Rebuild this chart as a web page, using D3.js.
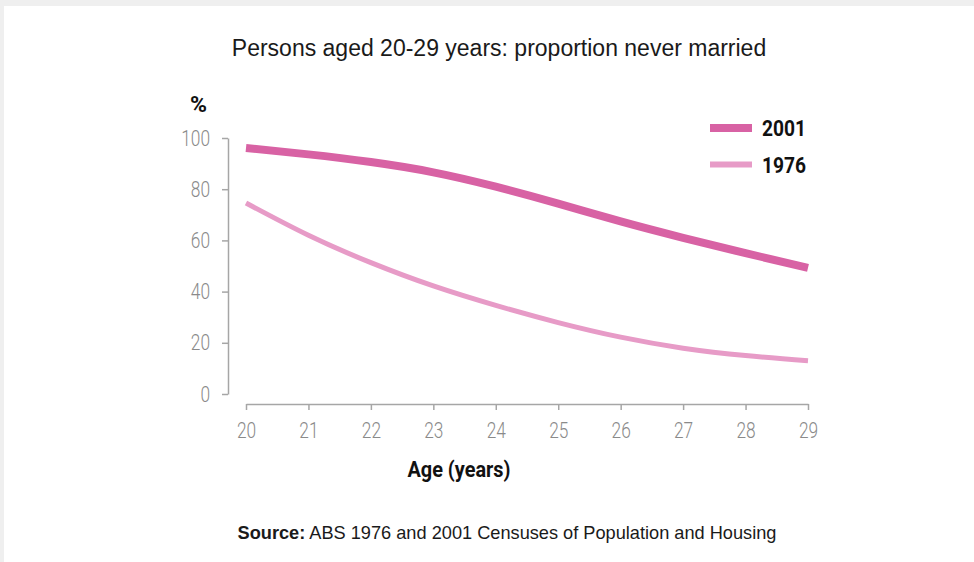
<!DOCTYPE html>
<html><head><meta charset="utf-8">
<script src="https://cdn.jsdelivr.net/npm/d3@7/dist/d3.min.js"></script>
<style>
html,body{margin:0;padding:0;background:#efefef;}
svg{display:block;}
</style></head>
<body>
<svg id="chart" width="974" height="562"></svg>
<script>
const ages = [20, 21, 22, 23, 24, 25, 26, 27, 28, 29];
const values2001 = [96.1, 93.6, 90.6, 86.6, 81.0, 74.4, 67.4, 61.0, 55.0, 49.3];
const values1976 = [74.6, 62.0, 51.3, 42.2, 34.6, 27.9, 22.2, 17.9, 15.0, 13.0];
const yTicks = [0, 20, 40, 60, 80, 100];
const seriesNames = ["2001", "1976"];
const seriesColors = ["#d862a4", "#e79bc7"];

const svg = d3.select("#chart");
svg.append("rect").attr("x", 4).attr("y", 6).attr("width", 970).attr("height", 556).attr("fill", "#ffffff");

const cond = "Roboto, 'Liberation Sans', sans-serif";
const sans = "'Liberation Sans', Arial, Helvetica, sans-serif";
const digitW = 9.6;

const x = d3.scaleLinear().domain([20, 29]).range([246, 808]);
const y = d3.scaleLinear().domain([0, 100]).range([394, 138]);

function styleTicks(g) {
  g.select(".domain").attr("stroke", "#a6a6a6").attr("stroke-width", 1.5);
  g.selectAll(".tick line").attr("stroke", "#a6a6a6").attr("stroke-width", 1.5);
  g.selectAll(".tick text").attr("fill", "#8a8a8a")
    .style("font-family", cond).style("font-weight", "300").style("font-size", "22px")
    .attr("textLength", function() { return this.textContent.length * digitW; })
    .attr("lengthAdjust", "spacingAndGlyphs");
}

// y axis
const yAxis = svg.append("g").attr("transform", "translate(228,0)")
  .call(d3.axisLeft(y).tickValues(yTicks).tickSize(6).tickSizeOuter(0).tickPadding(12));
styleTicks(yAxis);

// x axis
const xAxis = svg.append("g").attr("transform", "translate(0,404)")
  .call(d3.axisBottom(x).tickValues(ages).tickSize(6).tickSizeOuter(0).tickPadding(12).tickFormat(d3.format("d")));
styleTicks(xAxis);

// lines
const line = d3.line().x((d, i) => x(ages[i])).y(d => y(d)).curve(d3.curveNatural);
svg.append("path").datum(values1976).attr("fill", "none").attr("stroke", seriesColors[1]).attr("stroke-width", 5).attr("d", line);
svg.append("path").datum(values2001).attr("fill", "none").attr("stroke", seriesColors[0]).attr("stroke-width", 8).attr("d", line);

// title
svg.append("text").attr("x", 499).attr("y", 56).attr("text-anchor", "middle")
  .style("font-family", sans).style("font-size", "23px").attr("fill", "#1a1a1a")
  .text("Persons aged 20-29 years: proportion never married");

// % label
svg.append("text").attr("x", 190).attr("y", 112)
  .style("font-family", cond).style("font-weight", "bold").style("font-size", "22px").attr("fill", "#111")
  .attr("textLength", 17).attr("lengthAdjust", "spacingAndGlyphs")
  .text("%");

// legend
const legY = [128, 164.5];
const legW = [8, 6];
seriesNames.forEach((n, i) => {
  svg.append("line").attr("x1", 710).attr("x2", 752).attr("y1", legY[i]).attr("y2", legY[i])
    .attr("stroke", seriesColors[i]).attr("stroke-width", legW[i]);
  svg.append("text").attr("x", 762).attr("y", legY[i] + 8)
    .style("font-family", cond).style("font-weight", "bold").style("font-size", "22px").attr("fill", "#111")
    .attr("textLength", 44).attr("lengthAdjust", "spacingAndGlyphs")
    .text(n);
});

// x axis title
svg.append("text").attr("x", 459).attr("y", 477).attr("text-anchor", "middle")
  .style("font-family", cond).style("font-weight", "bold").style("font-size", "22px").attr("fill", "#111")
  .attr("textLength", 103).attr("lengthAdjust", "spacingAndGlyphs")
  .text("Age (years)");

// source
const src = svg.append("text").attr("x", 507).attr("y", 539).attr("text-anchor", "middle")
  .style("font-family", sans).style("font-size", "18.2px").attr("fill", "#1a1a1a");
src.append("tspan").style("font-weight", "bold").text("Source:");
src.append("tspan").text(" ABS 1976 and 2001 Censuses of Population and Housing");
</script>
</body></html>
